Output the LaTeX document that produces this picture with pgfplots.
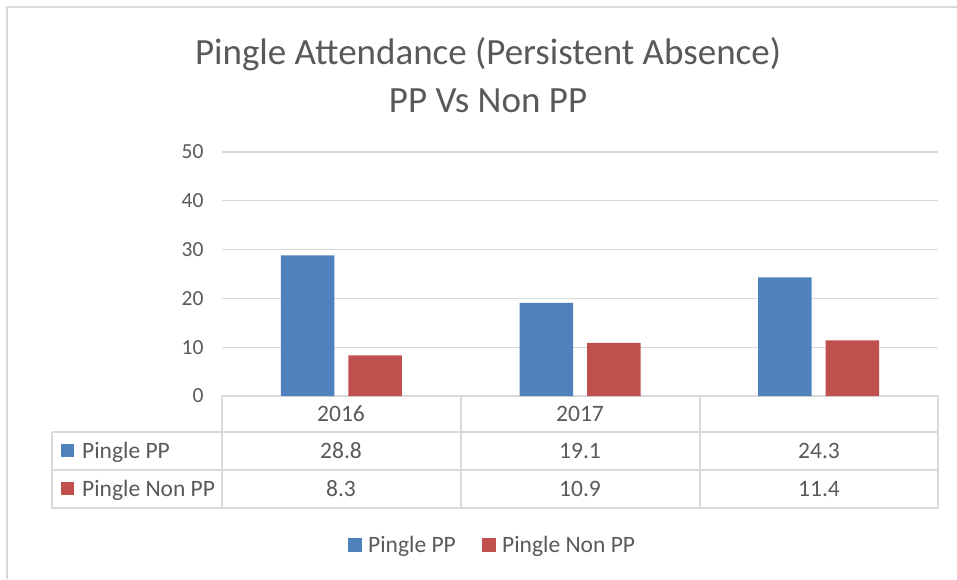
\documentclass[border=0pt]{standalone}
\usepackage{fontspec}
\setmainfont{Carlito}
\usepackage{pgfplots}
\pgfplotsset{compat=1.18}
\definecolor{ppblue}{HTML}{4F81BD}
\definecolor{npred}{HTML}{C0504D}
\definecolor{txt}{HTML}{595959}
\definecolor{rulegray}{HTML}{D9D9D9}
\newcommand{\tabfont}{\fontsize{23.5}{26}\selectfont}
\begin{document}
\begin{tikzpicture}[x=1pt,y=1pt]
\useasboundingbox (0,0) rectangle (957,579);
% outer chart frame
\draw[rulegray,line width=1.3pt] (7,0) -- (7,572) -- (957,572);
% title
\node[anchor=base,text=txt,font=\fontsize{37}{40}\selectfont] at (488,514) {Pingle Attendance (Persistent Absence)};
\node[anchor=base,text=txt,font=\fontsize{37}{40}\selectfont] at (488,466) {PP Vs Non PP};
\begin{axis}[
  at={(222pt,183pt)}, anchor=south west,
  scale only axis,
  width=716pt, height=244pt,
  xmin=-0.5, xmax=2.5,
  ymin=0, ymax=50,
  ytick={0,10,...,50},
  xtick=\empty,
  ybar=14pt, bar width=53.5pt,
  ymajorgrids,
  grid style={rulegray,line width=1.3pt},
  axis x line*=bottom, axis y line*=left,
  axis line style={draw=none},
  major tick length=0pt,
  yticklabel style={font=\fontsize{21.5}{24}\selectfont, text=txt, xshift=-15pt},
  /pgf/number format/assume math mode=true,
]
\addplot[fill=ppblue,draw=none] coordinates {(0,28.8) (1,19.1) (2,24.3)};
\addplot[fill=npred,draw=none] coordinates {(0,8.3) (1,10.9) (2,11.4)};
\end{axis}
% data table
\begin{scope}[rulegray,line width=1.5pt]
\draw (222,183) -- (222,71);
\draw (461,183) -- (461,71);
\draw (700,183) -- (700,71);
\draw (938,183) -- (938,71);
\draw (52,147) -- (938,147);
\draw (52,109) -- (938,109);
\draw (52,71) -- (938,71);
\draw (52,147) -- (52,71);
\end{scope}
\begin{scope}[every node/.style={anchor=base,text=txt,font=\tabfont,inner sep=0pt}]
\node at (341,158) {2016};
\node at (580,158) {2017};
\node at (341,120.5) {28.8};
\node at (580,120.5) {19.1};
\node at (819,120.5) {24.3};
\node at (341,82.5) {8.3};
\node at (580,82.5) {10.9};
\node at (819,82.5) {11.4};
\node[anchor=base west] at (82,120.5) {Pingle PP};
\node[anchor=base west] at (82,82.5) {Pingle Non PP};
% legend
\node[anchor=base west] at (368,26.5) {Pingle PP};
\node[anchor=base west] at (502,26.5) {Pingle Non PP};
\end{scope}
\fill[ppblue] (61,135) rectangle (74,122);
\fill[npred] (61,97) rectangle (74,84);
\fill[ppblue] (348,41) rectangle (362,27);
\fill[npred] (482,41) rectangle (496,27);
\end{tikzpicture}
\end{document}
